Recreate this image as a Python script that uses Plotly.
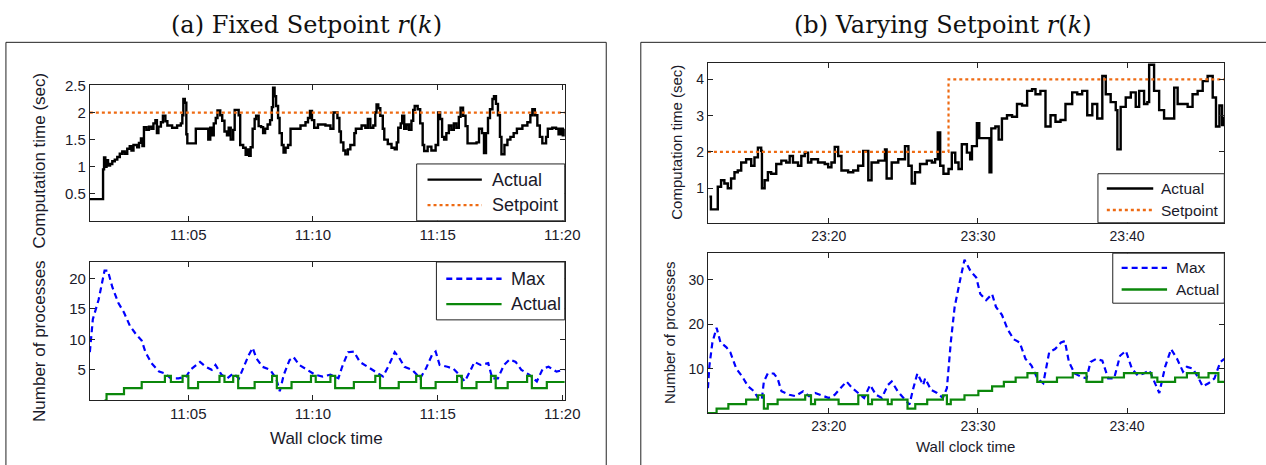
import plotly.graph_objects as go

W, H = 1266, 465

# ---------------- Panel (a): fixed setpoint (minutes after 11:00) ----------------
a_ct_t = [1.05, 1.58, 1.62, 1.67, 1.72, 1.78, 1.86, 1.95, 2.05, 2.15, 2.25, 2.35, 2.45, 2.55,
          2.65, 2.72, 2.80, 2.95, 3.02, 3.10, 3.16, 3.22, 3.32, 3.42, 3.52, 3.60, 3.68, 3.74,
          3.80, 3.90, 3.98, 4.08, 4.16, 4.35, 4.55, 4.70, 4.76, 4.80, 4.86, 4.92, 4.96, 5.30,
          5.55, 5.80, 5.88, 5.96, 6.02, 6.10, 6.17, 6.28, 6.36, 6.45, 6.55, 6.62, 6.70, 6.80,
          6.86, 7.02, 7.08, 7.20, 7.30, 7.38, 7.44, 7.50, 7.58, 7.66, 7.72, 7.82, 7.92, 8.00,
          8.08, 8.18, 8.28, 8.35, 8.40, 8.46, 8.52, 8.60, 8.66, 8.75, 8.82, 8.90, 9.00, 9.10,
          9.50, 9.70, 9.80, 9.88, 9.96, 10.05, 10.20, 10.50, 10.70, 10.82, 10.98, 11.06, 11.12,
          11.22, 11.30, 11.40, 11.50, 11.66, 11.72, 11.95, 12.10, 12.20, 12.30, 12.42, 12.50,
          12.55, 12.62, 12.70, 12.80, 12.86, 13.00, 13.15, 13.28, 13.36, 13.42, 13.52, 13.58,
          13.66, 13.75, 13.85, 13.95, 14.02, 14.08, 14.20, 14.30, 14.40, 14.46, 14.60, 14.75,
          14.92, 15.02, 15.10, 15.18, 15.26, 15.35, 15.45, 15.55, 15.65, 15.75, 15.85, 15.92,
          16.02, 16.12, 16.20, 16.56, 16.66, 16.78, 16.86, 16.94, 17.02, 17.10, 17.20, 17.26,
          17.34, 17.42, 17.50, 17.56, 17.68, 17.80, 17.92, 18.05, 18.18, 18.40, 18.60, 18.72,
          18.80, 18.90, 19.00, 19.10, 19.20, 19.35, 19.42, 19.60, 19.75, 19.85, 19.94, 20.02,
          20.10]
a_ct_v = [0.40, 0.95, 1.17, 1.00, 1.12, 1.02, 1.05, 1.10, 1.13, 1.18, 1.24, 1.28, 1.24, 1.33,
          1.38, 1.30, 1.40, 1.36, 1.44, 1.52, 1.38, 1.73, 1.68, 1.74, 1.70, 1.80, 1.86, 1.62,
          1.74, 1.82, 1.94, 1.84, 1.76, 1.72, 1.76, 1.80, 1.95, 2.25, 2.18, 1.60, 1.43, 1.70,
          1.70, 1.50, 1.72, 1.58, 1.80, 1.90, 2.04, 1.95, 1.85, 1.65, 1.58, 1.72, 1.50, 1.68,
          2.05, 1.95, 1.40, 1.35, 1.22, 1.32, 1.20, 1.36, 1.70, 1.88, 1.94, 1.75, 1.73, 1.62,
          1.70, 1.78, 1.86, 2.10, 2.46, 2.30, 2.12, 1.90, 1.62, 1.40, 1.26, 1.35, 1.40, 1.70,
          1.76, 1.82, 1.90, 2.03, 1.86, 1.72, 1.78, 1.76, 1.70, 2.00, 1.90, 1.65, 1.45,
          1.30, 1.23, 1.32, 1.40, 1.62, 1.70, 1.76, 1.72, 1.88, 1.72, 1.76, 2.00,
          2.15, 2.08, 1.94, 1.70, 1.50, 1.42, 1.35, 1.32, 1.45, 1.72, 1.80, 1.94,
          1.70, 1.78, 1.68, 1.85, 2.05, 2.12, 2.06, 1.80, 1.40, 1.29, 1.37, 1.30,
          1.40, 2.00, 1.88, 1.55, 1.50, 1.62, 1.76, 1.68, 1.80, 1.72, 1.92, 2.09,
          1.94, 1.75, 1.43, 1.45, 1.70, 1.62, 1.25, 1.62, 1.90, 2.06, 2.25, 2.30,
          2.16, 1.95, 1.55, 1.23, 1.40, 1.50, 1.55, 1.62, 1.70, 1.76, 1.82, 1.95,
          2.06, 1.95, 1.76, 1.55, 1.43, 1.55, 1.70, 1.72, 1.70, 1.60, 1.70, 1.58,
          1.70]
a_sp_t = [1.05, 20.10]
a_sp_v = [2.0, 2.0]

a_max_t = [1.05, 1.17, 1.40, 1.64, 1.77, 1.95, 2.19, 2.42, 2.66, 2.89, 3.13, 3.28, 3.52, 3.83,
           4.06, 4.30, 4.61, 4.92, 5.08, 5.47, 5.70, 5.94, 6.09, 6.33, 6.56, 6.80, 7.03, 7.19,
           7.42, 7.58, 7.73, 7.97, 8.28, 8.52, 8.67, 8.83, 9.06, 9.22, 9.45, 9.77, 10.08, 10.39,
           10.70, 11.02, 11.17, 11.41, 11.64, 11.88, 12.19, 12.50, 12.81, 13.05, 13.28, 13.44,
           13.67, 13.98, 14.30, 14.53, 14.77, 14.92, 15.08, 15.39, 15.63, 15.86, 16.09, 16.33,
           16.48, 16.72, 17.03, 17.19, 17.42, 17.66, 17.89, 18.13, 18.36, 18.67, 18.98, 19.22,
           19.45, 19.77, 20.08]
a_max_v = [7.9, 13.3, 16.5, 21.3, 21.3, 18.6, 16.0, 14.4, 12.2, 10.9, 9.8, 7.9, 6.1, 4.7,
           4.4, 3.6, 3.6, 3.9, 5.0, 6.3, 5.5, 5.0, 5.8, 4.2, 3.6, 4.4, 3.6, 5.2,
           7.4, 8.6, 6.9, 5.5, 5.0, 3.6, 1.5, 4.2, 6.6, 7.1, 5.8, 5.0, 4.2, 3.9,
           4.2, 3.6, 5.5, 7.9, 8.0, 6.3, 5.5, 4.7, 3.9, 5.8, 7.9, 7.1,
           5.5, 5.0, 3.6, 5.2, 7.4, 8.0, 5.8, 5.5, 5.2, 4.2, 3.1, 5.0,
           6.3, 5.8, 6.1, 3.6, 3.6, 5.8, 6.7, 6.3, 5.0, 4.2, 3.1, 5.2,
           5.5, 4.7, 5.0]
a_act_t = [1.64, 1.72, 2.42, 3.13, 4.06, 4.30, 4.77, 5.00, 5.39, 6.25, 6.45, 6.80, 7.00, 7.66,
           8.36, 8.55, 9.14, 9.92, 10.11, 10.70, 10.89, 11.64, 12.50, 12.69, 13.44, 14.14,
           14.33, 14.92, 15.78, 15.97, 16.56, 17.14, 17.33, 17.81, 18.59, 18.78, 19.38, 20.10]
a_act_v = [0, 1, 2, 3, 4, 3, 4, 2, 3, 4, 3, 4, 2, 3,
           4, 2, 3, 4, 3, 4, 2, 3, 4, 2, 3, 4,
           2, 3, 4, 2, 3, 4, 2, 3, 4, 2, 3, 3]

a_xticks = [5, 10, 15, 20]
a_xticklabels = ["11:05", "11:10", "11:15", "11:20"]
a_top_yticks = [0.5, 1, 1.5, 2, 2.5]
a_top_yticklabels = ["0.5", "1", "1.5", "2", "2.5"]
a_bot_yticks = [5, 10, 15, 20]

# ---------------- Panel (b): varying setpoint (minutes after 23:00) ----------------
b_ct_t = [12.0, 12.1, 12.44, 12.56, 12.78, 13.0, 13.23, 13.45, 13.68, 13.9, 14.13, 14.46,
          14.8, 15.02, 15.25, 15.47, 15.52, 15.7, 15.92, 16.14, 16.48, 16.82, 17.15, 17.38,
          17.6, 17.94, 18.16, 18.39, 18.61, 18.83, 19.28, 19.73, 19.96, 20.18, 20.4, 20.63,
          20.85, 21.3, 21.64, 21.97, 22.31, 22.65, 22.87, 23.32, 23.77, 23.88, 24.22, 24.66,
          25.11, 25.34, 25.56, 25.78, 26.12, 26.57, 26.91, 27.13, 27.31, 27.47, 27.69, 28.03,
          28.25, 28.48, 28.7, 28.92, 29.26, 29.48, 29.6, 29.93, 30.09, 30.72, 30.78, 30.9,
          31.17, 31.39, 31.61, 31.95, 32.29, 32.62, 32.96, 33.3, 33.63, 33.86, 34.19, 34.53,
          34.87, 35.2, 35.54, 35.87, 36.32, 36.66, 36.99, 37.33, 37.67, 38.0, 38.34, 38.57,
          38.9, 39.24, 39.35, 39.57, 39.91, 40.25, 40.58, 40.81, 41.14, 41.36, 41.48, 41.81,
          42.15, 42.48, 42.94, 43.16, 43.39, 43.72, 44.06, 44.39, 44.73, 45.07, 45.4, 45.74,
          45.96, 46.19, 46.37, 46.5]
b_ct_v = [0.77, 0.42, 0.42, 1.04, 1.22, 1.13, 1.0, 1.27, 1.44, 1.49, 1.71, 1.8,
          1.62, 1.85, 2.12, 2.03, 1.0, 1.22, 1.44, 1.4, 1.67, 1.76, 1.71, 1.89,
          1.71, 1.62, 1.89, 1.98, 1.71, 1.8, 1.71, 1.67, 1.58, 1.71, 2.14, 1.89,
          1.49, 1.44, 1.49, 1.62, 2.03, 1.22, 1.71, 1.76, 2.07, 1.27, 1.71, 1.8,
          2.16, 1.62, 1.13, 1.44, 1.67, 1.76, 1.71, 1.8, 2.54, 1.62, 1.4, 1.53,
          1.98, 1.71, 1.53, 2.21, 1.98, 1.8, 2.16, 2.79, 2.38, 2.38, 1.44, 2.65,
          2.7, 2.34, 2.92, 3.01, 2.97, 3.32, 3.28, 3.68, 3.73, 3.59, 3.68, 2.7,
          3.01, 2.83, 2.88, 3.32, 3.64, 3.59, 3.68, 3.01, 3.32, 2.92, 4.09, 3.59,
          3.37, 3.15, 2.07, 3.24, 3.5, 3.64, 3.24, 3.68, 3.32, 3.37, 4.4, 3.68,
          3.15, 2.92, 2.92, 3.77, 3.32, 3.32, 3.24, 3.59, 3.68, 3.95, 4.09, 3.5,
          2.7, 3.28, 2.74, 2.97]
b_sp_t = [11.9, 28.03, 46.52]
b_sp_v = [2.0, 4.0, 4.0]

b_max_t = [11.9, 12.0, 12.2, 12.48, 12.74, 13.14, 13.4, 13.8, 14.2, 14.59, 14.99, 15.25, 15.51,
           15.65, 15.91, 16.31, 16.57, 16.83, 17.36, 17.76, 18.28, 18.68, 19.08, 19.6, 20.0,
           20.4, 20.79, 21.19, 21.58, 21.98, 22.37, 22.77, 23.17, 23.56, 23.96, 24.22, 24.62,
           25.01, 25.41, 25.67, 25.94, 26.33, 26.46, 26.86, 27.26, 27.65, 27.92, 28.18, 28.44,
           28.84, 29.1, 29.5, 29.89, 30.16, 30.55, 30.95, 31.21, 31.61, 32.0, 32.4, 32.8, 33.19,
           33.59, 33.98, 34.38, 34.78, 35.17, 35.57, 35.83, 36.1, 36.49, 36.89, 37.28, 37.55,
           37.94, 38.34, 38.73, 39.13, 39.53, 39.92, 40.32, 40.71, 41.11, 41.5, 41.9, 42.16,
           42.55, 42.95, 43.35, 43.75, 44.01, 44.41, 44.8, 45.07, 45.46, 45.86, 46.25, 46.52]
b_max_v = [5.6, 10.7, 15.9, 19.2, 15.9, 14.8, 13.7, 10.0, 8.2, 6.0, 4.9, 3.4, 3.0,
           7.1, 8.9, 8.9, 7.8, 4.9, 4.1, 3.8, 4.9, 3.8, 4.5, 3.8, 3.4,
           4.1, 5.6, 7.1, 5.6, 4.5, 3.4, 6.3, 4.1, 3.4, 6.3, 7.1, 4.9,
           3.4, 1.9, 5.6, 8.9, 6.3, 7.8, 5.2, 4.5, 3.4, 5.6, 15.9, 23.9,
           30.5, 34.5, 32.0, 30.5, 26.8, 25.4, 26.8, 23.9, 22.1, 18.8, 16.6, 15.9, 12.2,
           10.7, 7.8, 6.7, 13.7, 14.4, 15.9, 16.2, 11.5, 8.9, 8.2, 7.8, 11.5,
           12.2, 11.8, 7.8, 7.8, 12.9, 14.0, 10.0, 8.5, 8.9, 9.6, 6.3, 4.5,
           10.4, 14.4, 12.2, 9.3, 10.4, 10.0, 7.8, 6.0, 6.7, 7.8, 11.5, 12.2]
b_act_t = [11.9, 12.48, 13.27, 14.46, 15.25, 15.65, 15.91, 16.57, 18.42, 18.81, 19.08, 20.66,
           21.98, 22.64, 22.9, 23.96, 24.22, 25.28, 25.8, 26.6, 27.65, 27.92, 28.18, 29.1,
           30.03, 30.95, 31.74, 32.53, 33.32, 33.98, 35.3, 36.36, 37.28, 38.34, 39.79, 41.64,
           42.03, 43.22, 44.01, 44.8, 45.46, 46.12, 46.52]
b_act_v = [0, 1, 2, 3, 4, 1, 2, 3, 4, 2, 3, 2,
           4, 2, 3, 2, 3, 1, 2, 3, 4, 2, 3, 4,
           5, 6, 7, 8, 9, 7, 8, 9, 7, 8, 9, 8,
           7, 8, 9, 8, 9, 7, 7]

b_xticks = [20, 30, 40]
b_xticklabels = ["23:20", "23:30", "23:40"]
b_top_yticks = [1, 2, 3, 4]
b_bot_yticks = [10, 20, 30]

# ---------------- styling ----------------
BLACK = "#000000"
ORANGE = "#EE6A12"
BLUE = "#0000FF"
GREEN = "#0B870B"
TXT = "#1a1a2a"
FRAME = "#222"
SERIF = "DejaVu Serif, Liberation Serif, serif"
SANS = "Liberation Sans, Arial"
DASH_MAX = "6px,4px"


def px(xp):
    return xp / W


def py(yp):
    return 1 - yp / H


fig = go.Figure()


def line(x, y, ax, name, color, dash, shape, width=2.2):
    fig.add_trace(go.Scatter(
        x=x, y=y, mode="lines", name=name,
        line=dict(color=color, width=width, dash=dash, shape=shape),
        xaxis="x" + ax, yaxis="y" + ax, showlegend=False, hoverinfo="skip"))


line(a_ct_t, a_ct_v, "", "Actual", BLACK, "solid", "hv", 2.4)
line(a_sp_t, a_sp_v, "", "Setpoint", ORANGE, "dot", "linear")
line(a_max_t, a_max_v, "2", "Max", BLUE, DASH_MAX, "linear")
line(a_act_t, a_act_v, "2", "Actual", GREEN, "solid", "hv")
line(b_ct_t, b_ct_v, "3", "Actual", BLACK, "solid", "hv", 2.4)
line(b_sp_t, b_sp_v, "3", "Setpoint", ORANGE, "dot", "hv")
line(b_max_t, b_max_v, "4", "Max", BLUE, DASH_MAX, "linear")
line(b_act_t, b_act_v, "4", "Actual", GREEN, "solid", "hv")


def axis_common(fs):
    return dict(showline=True, linecolor=FRAME, linewidth=1, mirror="ticks",
                ticks="inside", ticklen=5, tickcolor=FRAME, showgrid=False,
                zeroline=False, fixedrange=True,
                tickfont=dict(family=SANS, size=fs, color=TXT))


A_X = [px(91), px(572)]
B_X = [px(717), px(1240)]

fig.update_layout(
    width=W, height=H, margin=dict(l=0, r=0, t=0, b=0),
    paper_bgcolor="white", plot_bgcolor="white", showlegend=False, hovermode=False,
    xaxis=dict(domain=A_X, range=[1.05, 20.1], tickvals=a_xticks, ticktext=a_xticklabels,
               anchor="y", **axis_common(15)),
    yaxis=dict(domain=[py(216), py(78)], range=[0.0, 2.5], tickvals=a_top_yticks,
               ticktext=a_top_yticklabels, anchor="x", **axis_common(15)),
    xaxis2=dict(domain=A_X, range=[1.05, 20.1], tickvals=a_xticks, ticktext=a_xticklabels,
                anchor="y2", **axis_common(15)),
    yaxis2=dict(domain=[py(399), py(258)], range=[0, 22.7], tickvals=a_bot_yticks,
                anchor="x2", **axis_common(15)),
    xaxis3=dict(domain=B_X, range=[11.9, 46.52], tickvals=b_xticks, ticktext=b_xticklabels,
                anchor="y3", **axis_common(14)),
    yaxis3=dict(domain=[py(218), py(55)], range=[0.05, 4.45], tickvals=b_top_yticks,
                anchor="x3", **axis_common(14)),
    xaxis4=dict(domain=B_X, range=[11.9, 46.52], tickvals=b_xticks, ticktext=b_xticklabels,
                anchor="y4", **axis_common(14)),
    yaxis4=dict(domain=[py(412), py(249)], range=[0, 36], tickvals=b_bot_yticks,
                anchor="x4", **axis_common(14)),
)

shapes = [
    # panel frames
    dict(type="rect", xref="paper", yref="paper", x0=px(6), x1=px(614), y0=-0.2, y1=py(34),
         line=dict(color=FRAME, width=1), fillcolor="rgba(0,0,0,0)", layer="below"),
    dict(type="rect", xref="paper", yref="paper", x0=px(649), x1=1.2, y0=-0.2, y1=py(34),
         line=dict(color=FRAME, width=1), fillcolor="rgba(0,0,0,0)", layer="below"),
]
ann = []


def legend_box(x0, x1, y0, y1, rows, lx0, lx1, tx, fs):
    shapes.append(dict(type="rect", xref="paper", yref="paper", x0=px(x0), x1=px(x1),
                       y0=py(y1), y1=py(y0), line=dict(color=FRAME, width=1),
                       fillcolor="white", layer="above"))
    for yy, color, dash, label in rows:
        shapes.append(dict(type="line", xref="paper", yref="paper", x0=px(lx0), x1=px(lx1),
                           y0=py(yy), y1=py(yy), line=dict(color=color, width=2.4, dash=dash),
                           layer="above"))
        ann.append(dict(text=label, x=px(tx), y=py(yy), xref="paper", yref="paper",
                        xanchor="left", yanchor="middle", showarrow=False,
                        font=dict(family=SANS, size=fs, color=TXT)))


legend_box(422, 572, 158, 216, [(174, BLACK, "solid", "Actual"), (200, ORANGE, "dot", "Setpoint")],
           433, 488, 496, 18)
legend_box(442, 572, 258, 317, [(275, BLUE, DASH_MAX, "Max"), (301, GREEN, "solid", "Actual")],
           452, 508, 516, 18)
legend_box(1112, 1240, 168, 218, [(183, BLACK, "solid", "Actual"), (205, ORANGE, "dot", "Setpoint")],
           1121, 1168, 1174, 15.5)
legend_box(1127, 1240, 249, 300, [(264, BLUE, DASH_MAX, "Max"), (286, GREEN, "solid", "Actual")],
           1136, 1182, 1189, 15.5)


def text(t, x, y, fs, family=SANS, angle=0, color=TXT):
    ann.append(dict(text=t, x=px(x), y=py(y), xref="paper", yref="paper", showarrow=False,
                    xanchor="center", yanchor="middle", textangle=angle,
                    font=dict(family=family, size=fs, color=color)))


text("(a) Fixed Setpoint <i>r</i>(<i>k</i>)", 310, 16, 24, SERIF, color="#111")
text("(b) Varying Setpoint <i>r</i>(<i>k</i>)", 955, 16, 24, SERIF, color="#111")
text("Computation time (sec)", 40, 154, 17, angle=-90)
text("Number of processes", 40, 338, 17, angle=-90)
text("Wall clock time", 331, 438, 17)
text("Computation time (sec)", 685, 136, 15, angle=-90)
text("Number of processes", 678, 330, 15, angle=-90)
text("Wall clock time", 978, 446, 15)

fig.update_layout(shapes=shapes, annotations=ann)

fig.write_html("out.html",
               config={"displayModeBar": False, "staticPlot": True},
               post_script="document.body.style.margin='0';document.body.style.overflow='hidden';")
